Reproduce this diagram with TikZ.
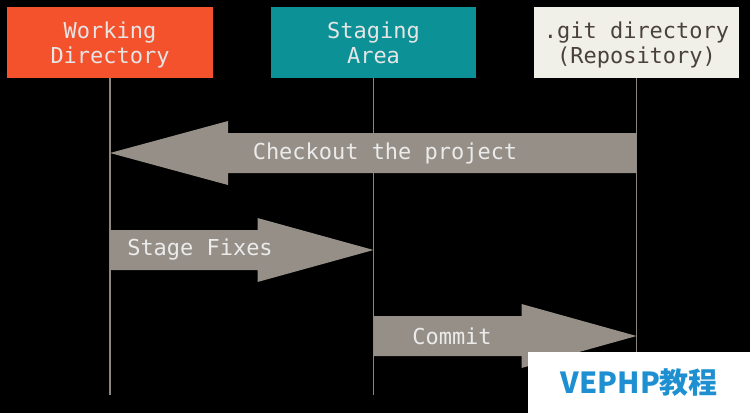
\documentclass[tikz,border=0pt]{standalone}
\usepackage{fontspec}
\setmonofont{DejaVu Sans Mono}
\newfontfamily\cjk{Noto Sans CJK SC}
\usetikzlibrary{calc}

\definecolor{wdred}{HTML}{F4522D}
\definecolor{stageteal}{HTML}{0C9196}
\definecolor{gitpaper}{HTML}{F0EFE8}
\definecolor{gitink}{HTML}{4A423A}
\definecolor{flowgray}{HTML}{958F87}
\definecolor{lifegray}{HTML}{8B857F}
\definecolor{markblue}{HTML}{1E90D2}

\tikzset{
	area/.style={minimum width=4.12cm, minimum height=1.42cm, align=center,
		font=\ttfamily\fontsize{12.5}{14.3}\selectfont, inner sep=0pt, text depth=-1pt},
	lifeline/.style={draw=lifegray, line width=0.9pt},
	flow/.style={fill=flowgray},
	flowtext/.style={text=white!92!black, font=\ttfamily\fontsize{12.5}{14.3}\selectfont}
}

\begin{document}
\begin{tikzpicture}[x=0.02cm, y=-0.02cm]
	\fill[black] (0,0) rectangle (750,413);
	\useasboundingbox (0,0) rectangle (750,413);

	% the three areas
	\node[area, fill=wdred, text=white!90!black] (wd) at (110,42.5) {Working\\Directory};
	\node[area, fill=stageteal, text=white!90!black] (stage) at (373.5,42.5) {Staging\\Area};
	\node[area, fill=gitpaper, text=gitink] (repo) at (636.5,42.5) {.git directory\\(Repository)};

	\coordinate (wd-end) at (wd.south |- 0,395);
	\coordinate (stage-end) at (stage.south |- 0,395);
	\coordinate (repo-end) at (repo.south |- 0,395);
	\draw[lifeline] (wd.south) -- (wd-end);
	\draw[lifeline] (stage.south) -- (stage-end);
	\draw[lifeline] (repo.south) -- (repo-end);

	% checkout: repository -> working directory
	\coordinate (co-tip) at (wd.south |- 0,153);
	\coordinate (co-end) at (repo.south |- 0,153);
	\fill[flow] (co-tip) -- ($(co-tip)+(118,-32)$) -- ($(co-tip)+(118,-20)$)
		-- ($(co-end)+(0,-20)$) -- ($(co-end)+(0,20)$)
		-- ($(co-tip)+(118,20)$) -- ($(co-tip)+(118,32)$) -- cycle;
	\node[flowtext] (co-label) at (385,153) {Checkout the project};

	% stage fixes: working directory -> staging area
	\coordinate (sf-start) at (wd.south |- 0,250);
	\coordinate (sf-tip) at (stage.south |- 0,250);
	\fill[flow] (sf-tip) -- ($(sf-tip)+(-116,-32)$) -- ($(sf-tip)+(-116,-20)$)
		-- ($(sf-start)+(0,-20)$) -- ($(sf-start)+(0,20)$)
		-- ($(sf-tip)+(-116,20)$) -- ($(sf-tip)+(-116,32)$) -- cycle;
	\node[flowtext] (sf-label) at (200,250) {Stage Fixes};

	% commit: staging area -> repository
	\coordinate (cm-start) at (stage.south |- 0,336);
	\coordinate (cm-tip) at (repo.south |- 0,336);
	\fill[flow] (cm-tip) -- ($(cm-tip)+(-115,-32)$) -- ($(cm-tip)+(-115,-20)$)
		-- ($(cm-start)+(0,-20)$) -- ($(cm-start)+(0,20)$)
		-- ($(cm-tip)+(-115,20)$) -- ($(cm-tip)+(-115,32)$) -- cycle;
	\node[flowtext] (cm-label) at (452,336) {Commit};

	% watermark
	\node[fill=white, minimum width=4.44cm, minimum height=1.22cm, anchor=north west,
		text=markblue, font=\cjk\bfseries\fontsize{16.5}{18}\selectfont] (mark) at (528,352) {VEPHP教程};
\end{tikzpicture}
\end{document}
